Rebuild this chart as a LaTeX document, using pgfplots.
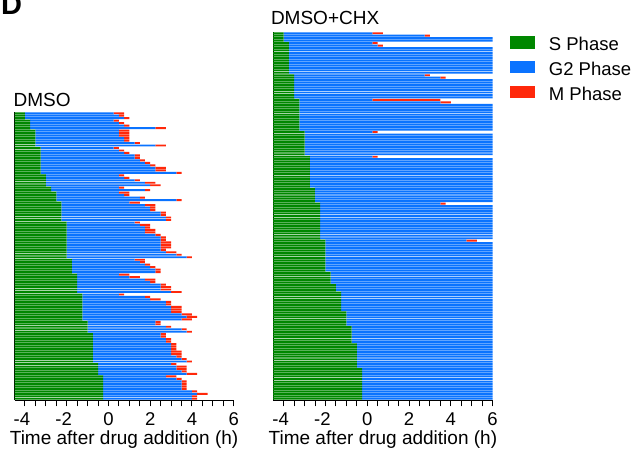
\documentclass[border=0pt]{standalone}
\usepackage{fontspec}
\setmainfont{Liberation Sans}
\usepackage{pgfplots}
\usepackage{pgfplotstable}
\pgfplotsset{compat=1.18}

\definecolor{sgreen}{RGB}{0,135,0}
\definecolor{gblue}{RGB}{10,115,255}
\definecolor{mred}{RGB}{255,40,10}

% one row per cell, top to bottom: end of S, end of G2, end of M
% (hours after drug addition; 6 = still in G2 at the end of the movie)
\pgfplotstableread{
s g m
-4 0.25 0.75
-4 0.5 0.75
-4 0.75 1.0
-3.75 0.25 0.5
-3.75 0.5 0.75
-3.75 0.75 1.0
-3.75 2.25 2.75
-3.5 0.5 1.0
-3.5 0.5 1.0
-3.5 0.5 1.0
-3.5 0.75 1.0
-3.5 0.75 1.0
-3.5 1.25 1.5
-3.5 2.25 2.75
-3.25 0.25 0.5
-3.25 0.5 0.75
-3.25 0.75 1.0
-3.25 1.25 1.5
-3.25 1.25 1.5
-3.25 1.5 1.75
-3.25 1.75 2.0
-3.25 2.0 2.25
-3.25 2.25 2.75
-3.25 2.25 2.75
-3.25 3.25 3.5
-3 0.5 0.75
-3 0.75 1.0
-3 1.25 1.5
-3 1.75 2.25
-3 2.0 2.5
-2.75 0.5 0.75
-2.75 1.75 2.0
-2.5 0.5 1.0
-2.5 0.75 1.0
-2.5 1.5 1.75
-2.5 3.25 3.5
-2.25 1.0 1.5
-2.25 1.75 2.25
-2.25 2.0 2.25
-2.25 2.0 2.25
-2.25 2.5 2.75
-2.25 2.5 2.75
-2.25 2.75 3.0
-2.25 2.75 3.0
-2 1.25 1.5
-2 1.5 2.0
-2 1.75 2.0
-2 1.75 2.25
-2 1.75 2.25
-2 2.25 2.5
-2 2.5 2.75
-2 2.5 2.75
-2 2.5 3.0
-2 2.5 3.0
-2 2.5 3.0
-2 2.5 2.75
-2 2.75 3.25
-2 3.25 3.5
-2 3.75 4.0
-1.75 1.25 1.75
-1.75 1.5 1.75
-1.75 1.75 2.0
-1.75 2.0 2.25
-1.75 2.25 2.5
-1.75 2.25 2.5
-1.5 0.5 1.0
-1.5 1.0 1.5
-1.5 1.75 2.25
-1.5 2.0 2.25
-1.5 2.5 2.75
-1.5 2.5 3.0
-1.5 2.5 3.0
-1.5 3.0 3.5
-1.25 0.5 0.75
-1.25 1.75 2.0
-1.25 2.0 2.5
-1.25 2.75 3.0
-1.25 2.75 3.0
-1.25 3.0 3.5
-1.25 3.0 3.5
-1.25 3.0 3.5
-1.25 3.5 4.0
-1.25 3.75 4.25
-1.25 3.5 4.0
-1 2.25 2.5
-1 2.25 2.5
-1 2.75 3.0
-1 3.5 3.75
-1 3.75 4.0
-0.75 2.5 2.75
-0.75 2.5 2.75
-0.75 2.75 3.0
-0.75 2.75 3.0
-0.75 3.0 3.25
-0.75 3.0 3.25
-0.75 3.0 3.25
-0.75 3.0 3.5
-0.75 3.0 3.5
-0.75 3.25 3.5
-0.75 3.5 3.75
-0.75 3.75 4.0
-0.5 3.0 3.25
-0.5 3.25 3.75
-0.5 3.25 3.75
-0.5 3.5 3.75
-0.5 3.75 4.25
-0.25 2.75 3.25
-0.25 3.25 3.5
-0.25 3.5 3.75
-0.25 3.5 3.75
-0.25 3.5 3.75
-0.25 3.5 3.75
-0.25 4.0 4.25
-0.25 4.25 4.75
-0.25 4.0 4.25
-0.25 4.0 4.25
}\dmso

\pgfplotstableread{
s g m
-4 0.25 0.75
-4 2.75 3.0
-4 6 6
-4 6 6
-3.75 0.25 0.5
-3.75 0.5 0.75
-3.75 6 6
-3.75 6 6
-3.75 6 6
-3.75 6 6
-3.75 6 6
-3.75 6 6
-3.75 6 6
-3.75 6 6
-3.75 6 6
-3.75 6 6
-3.75 6 6
-3.5 2.75 3.0
-3.5 3.5 3.75
-3.5 6 6
-3.5 6 6
-3.5 6 6
-3.5 6 6
-3.5 6 6
-3.5 6 6
-3.5 6 6
-3.5 6 6
-3.25 0.25 3.5
-3.25 3.5 4.0
-3.25 6 6
-3.25 6 6
-3.25 6 6
-3.25 6 6
-3.25 6 6
-3.25 6 6
-3.25 6 6
-3.25 6 6
-3.25 6 6
-3.25 6 6
-3.25 6 6
-3 0.25 0.5
-3 6 6
-3 6 6
-3 6 6
-3 6 6
-3 6 6
-3 6 6
-3 6 6
-3 6 6
-3 6 6
-2.75 0.25 0.5
-2.75 6 6
-2.75 6 6
-2.75 6 6
-2.75 6 6
-2.75 6 6
-2.75 6 6
-2.75 6 6
-2.75 6 6
-2.75 6 6
-2.75 6 6
-2.75 6 6
-2.75 6 6
-2.5 6 6
-2.5 6 6
-2.5 6 6
-2.5 6 6
-2.5 6 6
-2.5 6 6
-2.25 3.5 3.75
-2.25 6 6
-2.25 6 6
-2.25 6 6
-2.25 6 6
-2.25 6 6
-2.25 6 6
-2.25 6 6
-2.25 6 6
-2.25 6 6
-2.25 6 6
-2.25 6 6
-2.25 6 6
-2.25 6 6
-2.25 6 6
-2 4.75 5.25
-2 6 6
-2 6 6
-2 6 6
-2 6 6
-2 6 6
-2 6 6
-2 6 6
-2 6 6
-2 6 6
-2 6 6
-2 6 6
-2 6 6
-1.75 6 6
-1.75 6 6
-1.75 6 6
-1.75 6 6
-1.75 6 6
-1.5 6 6
-1.5 6 6
-1.5 6 6
-1.25 6 6
-1.25 6 6
-1.25 6 6
-1.25 6 6
-1.25 6 6
-1.25 6 6
-1.25 6 6
-1.25 6 6
-1 6 6
-1 6 6
-1 6 6
-1 6 6
-1 6 6
-1 6 6
-0.75 6 6
-0.75 6 6
-0.75 6 6
-0.75 6 6
-0.75 6 6
-0.75 6 6
-0.75 6 6
-0.5 6 6
-0.5 6 6
-0.5 6 6
-0.5 6 6
-0.5 6 6
-0.5 6 6
-0.5 6 6
-0.5 6 6
-0.5 6 6
-0.5 6 6
-0.25 6 6
-0.25 6 6
-0.25 6 6
-0.25 6 6
-0.25 6 6
-0.25 6 6
-0.25 6 6
-0.25 6 6
-0.25 6 6
-0.25 6 6
-0.25 6 6
-0.25 6 6
-0.25 6 6
}\chx

% bars are drawn on a shifted time axis (t + 4.5) so that they start at -4.5 h
\pgfplotsset{
  cellaxis/.style={
    scale only axis, anchor=south west,
    xbar stacked, bar width=0.78,
    xmin=0, xmax=10.5, enlargelimits=false,
    axis x line*=bottom, axis y line*=left,
    axis line style={black, line width=0.9pt},
    ytick=\empty,
    xtick={0.5,2.5,4.5,6.5,8.5,10.5},
    xticklabels={\llap{-}4,\llap{-}2,0,2,4,6},
    minor xtick={1,1.5,2,3,3.5,4,5,5.5,6,7,7.5,8,9,9.5,10},
    tick align=outside, major tick length=6.5pt, minor tick length=6.5pt,
    every tick/.style={black, line width=0.9pt},
    xticklabel style={font=\fontsize{18.5}{20}\selectfont, anchor=north, inner sep=0pt},
    xticklabel shift=6pt,
    xlabel={Time after drug addition (h)},
    xlabel style={font=\fontsize{19}{22}\selectfont, at={(axis description cs:0.5,0)},
      anchor=base, yshift=-44.5pt, inner sep=0pt},
  },
}

\begin{document}
\begin{tikzpicture}
\useasboundingbox (0,0) rectangle (635pt,449pt);

\node[anchor=base west, inner sep=0pt, font=\bfseries\fontsize{29}{30}\selectfont] at (1pt,434pt) {D};

\begin{axis}[cellaxis, at={(14.5pt,49pt)}, width=219.2pt, height=288pt,
  ymin=-115.5, ymax=0.5]
\addplot[fill=sgreen, draw=none] table[x expr=\thisrow{s}+4.5, y expr=-\coordindex] {\dmso};
\addplot[fill=gblue, draw=none] table[x expr=\thisrow{g}-\thisrow{s}, y expr=-\coordindex] {\dmso};
\addplot[fill=mred, draw=none] table[x expr=\thisrow{m}-\thisrow{g}, y expr=-\coordindex] {\dmso};
\draw[white, opacity=0.75, line width=0.9pt, dash pattern=on 2pt off 2pt]
  (axis cs:4.5,0.5) -- (axis cs:4.5,-115.5);
\end{axis}
\node[anchor=base west, inner sep=0pt, font=\fontsize{19}{22}\selectfont] at (13.5pt,342.3pt) {DMSO};

\begin{axis}[cellaxis, at={(273.2pt,49pt)}, width=219.4pt, height=368pt,
  ymin=-148.5, ymax=0.5,
  legend style={at={(axis description cs:1.0789,0.9891)}, anchor=north west,
    draw=none, fill=none, inner sep=0pt, outer sep=0pt,
    row sep=8.9pt, column sep=14pt,
    nodes={inner sep=0pt, font=\fontsize{18.5}{20}\selectfont}},
  legend cell align=left,
  legend image code/.code={\fill[#1] (0pt,-4pt) rectangle (25pt,8.5pt);}]
\addplot[fill=sgreen, draw=none] table[x expr=\thisrow{s}+4.5, y expr=-\coordindex] {\chx};
\addplot[fill=gblue, draw=none] table[x expr=\thisrow{g}-\thisrow{s}, y expr=-\coordindex] {\chx};
\addplot[fill=mred, draw=none] table[x expr=\thisrow{m}-\thisrow{g}, y expr=-\coordindex] {\chx};
\draw[white, opacity=0.75, line width=0.9pt, dash pattern=on 2pt off 2pt]
  (axis cs:4.5,0.5) -- (axis cs:4.5,-148.5);
\legend{S Phase, G2 Phase, M Phase}
\end{axis}
\node[anchor=base west, inner sep=0pt, font=\fontsize{19}{22}\selectfont] at (270.8pt,424pt) {DMSO+CHX};

\end{tikzpicture}
\end{document}
